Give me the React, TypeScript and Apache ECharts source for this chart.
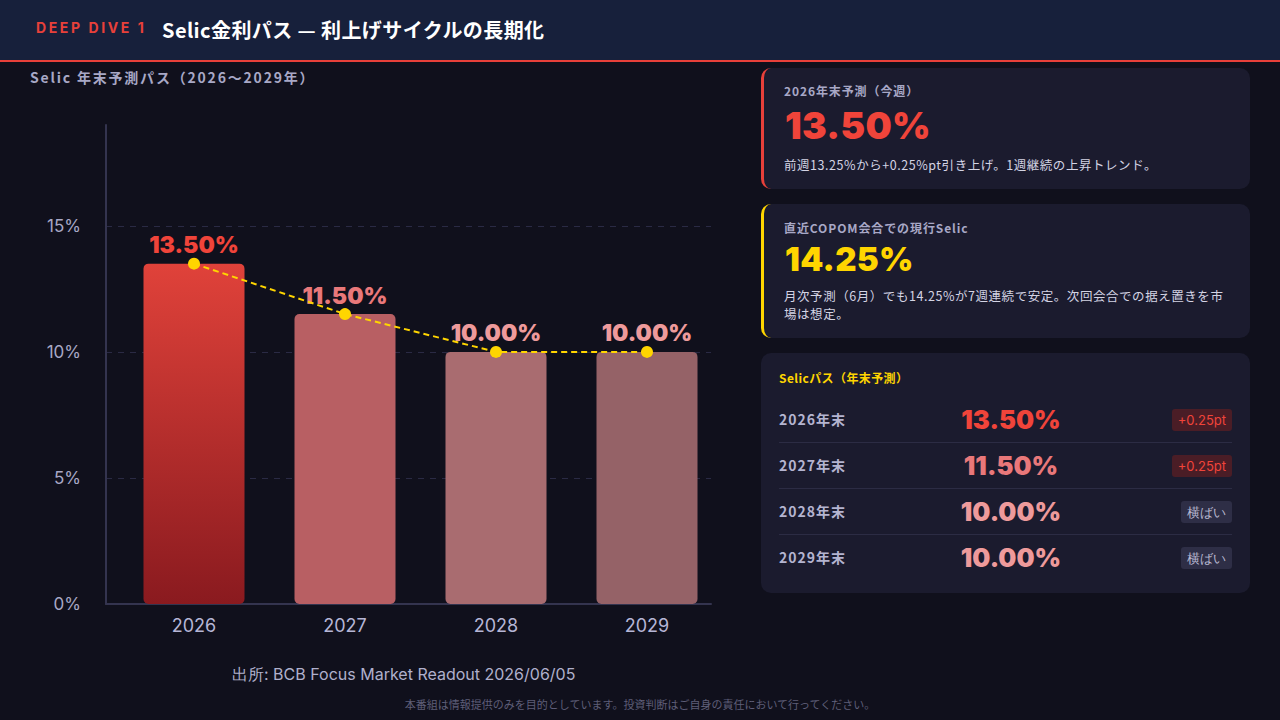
import React, { useEffect, useRef } from "react";
import * as echarts from "echarts";

const years = ["2026", "2027", "2028", "2029"];
const selicPath = [13.5, 11.5, 10.0, 10.0];
const yTicks = [0, 5, 10, 15];
const yMax = 19;
const barTop = ["#e0423a", "#b85f63", "#a96c70", "#956267"];
const barBottom = ["#8a1a1f", "#b85f63", "#a96c70", "#956267"];
const labelColors = ["#f0443a", "#e9787a", "#ee9a9b", "#ee9a9b"];

const tableRows = [
  { label: "2026年末", value: "13.50%", color: "#f0443a", tag: "+0.25pt", up: true },
  { label: "2027年末", value: "11.50%", color: "#e9787a", tag: "+0.25pt", up: true },
  { label: "2028年末", value: "10.00%", color: "#ee9a9b", tag: "横ばい", up: false },
  { label: "2029年末", value: "10.00%", color: "#ee9a9b", tag: "横ばい", up: false },
];

const JP = '"Noto Sans CJK JP", "Noto Sans", sans-serif';
const NUM = 'Inter, "Noto Sans", sans-serif';

function Chart() {
  const ref = useRef<HTMLDivElement>(null);
  useEffect(() => {
    if (!ref.current) return;
    const chart = echarts.init(ref.current, undefined, { renderer: "svg" });
    chart.setOption({
      animation: false,
      backgroundColor: "transparent",
      grid: [
        { left: 106, top: 125, width: 605, bottom: 116 },
        { left: 118.5, top: 125, width: 604, bottom: 116 },
      ],
      xAxis: [
        {
          type: "category",
          gridIndex: 0,
          data: years,
          axisLine: { show: true, lineStyle: { color: "#34344f", width: 2 } },
          axisTick: { show: false },
          axisLabel: { show: false },
        },
        {
          type: "category",
          gridIndex: 1,
          data: years,
          axisLine: { show: false },
          axisTick: { show: false },
          axisLabel: { color: "#b6b6d6", fontSize: 18, fontFamily: NUM, margin: 12 },
        },
      ],
      yAxis: [
        {
          type: "value",
          gridIndex: 0,
          min: 0,
          max: yMax,
          interval: 5,
          axisLine: { show: true, lineStyle: { color: "#34344f", width: 2 } },
          axisTick: { show: false },
          axisLabel: {
            color: "#a8a8c6",
            fontSize: 17,
            fontFamily: NUM,
            margin: 25,
            formatter: (v: number) => (yTicks.includes(v) ? v + "%" : ""),
          },
          splitLine: {
            show: true,
            showMinLine: false,
            showMaxLine: false,
            lineStyle: { color: "#2a2a44", type: [6, 6], width: 1 },
          },
        },
        {
          type: "value",
          gridIndex: 1,
          min: 0,
          max: yMax,
          show: false,
          splitLine: { show: false },
        },
      ],
      series: [
        {
          type: "bar",
          xAxisIndex: 1,
          yAxisIndex: 1,
          barWidth: 101,
          data: selicPath.map((v, i) => ({
            value: v,
            itemStyle: {
              color: new echarts.graphic.LinearGradient(0, 0, 0, 1, [
                { offset: 0, color: barTop[i] },
                { offset: 1, color: barBottom[i] },
              ]),
              borderRadius: 5,
            },
            label: { color: labelColors[i] },
          })),
          label: {
            show: true,
            position: "top",
            distance: 7,
            fontSize: 23,
            fontWeight: 900,
            fontFamily: NUM,
            formatter: (p: any) => p.value.toFixed(2) + "%",
          },
          z: 2,
        },
        {
          type: "line",
          xAxisIndex: 1,
          yAxisIndex: 1,
          data: selicPath,
          symbol: "circle",
          symbolSize: 12,
          itemStyle: { color: "#ffd500" },
          lineStyle: { color: "#ffd500", width: 2, type: [6, 4] },
          z: 3,
        },
      ],
    });
    return () => chart.dispose();
  }, []);
  return <div ref={ref} style={{ position: "absolute", left: 0, top: 0, width: 760, height: 720 }} />;
}

export default function App() {
  return (
    <div
      style={{
        position: "fixed",
        left: 0,
        top: 0,
        width: 1280,
        height: 720,
        background: "#10101c",
        fontFamily: JP,
        overflow: "hidden",
      }}
    >
      <div
        style={{
          position: "absolute",
          left: 0,
          top: 0,
          width: 1280,
          height: 60,
          background: "#17203b",
          borderBottom: "2px solid #e8403a",
        }}
      >
        <div
          style={{
            position: "absolute",
            left: 36,
            top: 19,
            color: "#e8403a",
            fontSize: 14,
            fontWeight: 700,
            letterSpacing: 2.6,
            fontFamily: NUM,
          }}
        >
          DEEP DIVE 1
        </div>
        <div
          style={{
            position: "absolute",
            left: 162,
            top: 15,
            color: "#ffffff",
            fontSize: 20,
            fontWeight: 700,
            letterSpacing: 0.4,
          }}
        >
          Selic金利パス — 利上げサイクルの長期化
        </div>
      </div>
      <div
        style={{
          position: "absolute",
          left: 30,
          top: 67,
          color: "#a8a8c6",
          fontSize: 14,
          fontWeight: 700,
          letterSpacing: 1.8,
        }}
      >
        Selic 年末予測パス（2026〜2029年）
      </div>
      <Chart />
      <div
        style={{
          position: "absolute",
          left: 232,
          top: 664,
          color: "#b0b0cc",
          fontSize: 16,
          fontFamily: NUM,
        }}
      >
        出所: BCB Focus Market Readout 2026/06/05
      </div>
      <div
        style={{
          position: "absolute",
          left: 0,
          width: 1280,
          top: 696,
          textAlign: "center",
          color: "#5e5e78",
          fontSize: 11,
        }}
      >
        本番組は情報提供のみを目的としています。投資判断はご自身の責任において行ってください。
      </div>

      {/* Card 1 */}
      <div
        style={{
          position: "absolute",
          left: 761,
          top: 68,
          width: 489,
          height: 121,
          background: "#1b1b2e",
          borderRadius: 10,
          borderLeft: "3px solid #e8403a",
          boxSizing: "border-box",
        }}
      >
        <div
          style={{
            position: "absolute",
            left: 20,
            top: 14,
            color: "#a8a8c6",
            fontSize: 12,
            fontWeight: 700,
            letterSpacing: 0.9,
          }}
        >
          2026年末予測（今週）
        </div>
        <div
          style={{
            position: "absolute",
            left: 21,
            top: 35,
            color: "#f0443a",
            fontSize: 37,
            fontWeight: 900,
            fontFamily: NUM,
            letterSpacing: 0.3,
          }}
        >
          13.50%
        </div>
        <div
          style={{
            position: "absolute",
            left: 20,
            top: 87,
            color: "#d4d4e4",
            fontSize: 12.5,
            letterSpacing: 0.55,
          }}
        >
          前週13.25%から+0.25%pt引き上げ。1週継続の上昇トレンド。
        </div>
      </div>

      {/* Card 2 */}
      <div
        style={{
          position: "absolute",
          left: 761,
          top: 204,
          width: 489,
          height: 134,
          background: "#1b1b2e",
          borderRadius: 10,
          borderLeft: "3px solid #ffd500",
          boxSizing: "border-box",
        }}
      >
        <div
          style={{
            position: "absolute",
            left: 20,
            top: 15,
            color: "#a8a8c6",
            fontSize: 12,
            fontWeight: 700,
            letterSpacing: 0.9,
          }}
        >
          直近COPOM会合での現行Selic
        </div>
        <div
          style={{
            position: "absolute",
            left: 21,
            top: 35,
            color: "#ffd500",
            fontSize: 33,
            fontWeight: 900,
            fontFamily: NUM,
            letterSpacing: 0.3,
          }}
        >
          14.25%
        </div>
        <div
          style={{
            position: "absolute",
            left: 20,
            top: 83,
            width: 450,
            color: "#d4d4e4",
            fontSize: 12.5,
            letterSpacing: 0.55,
            lineHeight: "18px",
          }}
        >
          月次予測（6月）でも14.25%が7週連続で安定。次回会合での据え置きを市場は想定。
        </div>
      </div>

      {/* Card 3 */}
      <div
        style={{
          position: "absolute",
          left: 761,
          top: 353,
          width: 489,
          height: 240,
          background: "#1b1b2e",
          borderRadius: 10,
        }}
      >
        <div
          style={{
            position: "absolute",
            left: 18,
            top: 16,
            color: "#ffd500",
            fontSize: 12,
            fontWeight: 700,
            letterSpacing: 0.4,
          }}
        >
          Selicパス（年末予測）
        </div>
        {tableRows.map((r, i) => (
          <div
            key={r.label}
            style={{
              position: "absolute",
              left: 18,
              top: 44 + i * 46,
              width: 453,
              height: 46,
              borderBottom: i < 3 ? "1px solid #2c2c44" : "none",
              boxSizing: "border-box",
            }}
          >
            <div
              style={{
                position: "absolute",
                left: 0,
                top: 12,
                color: "#b4b4d0",
                fontSize: 14,
                fontWeight: 700,
                letterSpacing: 1,
              }}
            >
              {r.label}
            </div>
            <div
              style={{
                position: "absolute",
                left: 132,
                width: 200,
                top: 7,
                textAlign: "center",
                color: r.color,
                fontSize: 25.5,
                fontWeight: 900,
                fontFamily: NUM,
              }}
            >
              {r.value}
            </div>
            <div
              style={{
                position: "absolute",
                right: 0,
                top: 12,
                height: 22,
                lineHeight: "22px",
                padding: "0 6px",
                borderRadius: 3,
                fontSize: 13,
                fontFamily: NUM,
                background: r.up ? "#4a1d26" : "#2e2e46",
                color: r.up ? "#f0443a" : "#b8b8d0",
              }}
            >
              {r.tag}
            </div>
          </div>
        ))}
      </div>
    </div>
  );
}
